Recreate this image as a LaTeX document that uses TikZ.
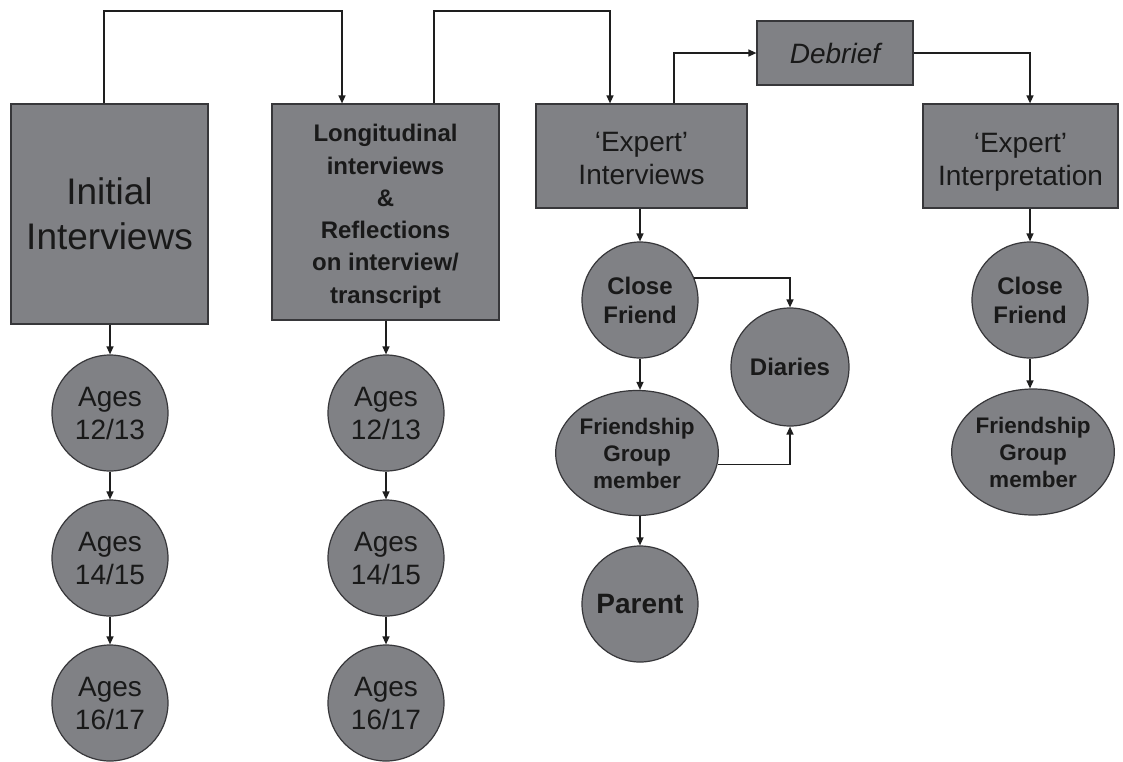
\documentclass[tikz,border=0pt]{standalone}
\usepackage{fontspec}
\setmainfont{Liberation Sans}
\usetikzlibrary{arrows.meta,shapes.geometric}
\definecolor{boxfill}{RGB}{128,129,133}
\definecolor{boxline}{RGB}{55,55,58}
\definecolor{wire}{RGB}{30,30,30}
% centred stack of lines, drawn #1 lower while keeping its measured extent
\newcommand{\dropstack}[2]{\raisebox{-#1}[\height][\depth]{\begin{tabular}{@{}c@{}}#2\end{tabular}}}
\begin{document}
\begin{tikzpicture}[x=1pt,y=-1pt,
  base/.style={draw=boxline,fill=boxfill,line width=1.2pt,align=center,inner sep=0pt,text=black!90},
  panel/.style={base,rectangle},
  bubble/.style={base,circle,minimum size=116pt},
  oval/.style={base,ellipse,minimum width=149pt,minimum height=125pt},
  arr/.style={draw=wire,line width=1.3pt,-{Triangle[length=8pt,width=7pt]}}
]
\useasboundingbox (0,0) rectangle (1123,761);

% top-level stages
\node[panel,minimum width=197pt,minimum height=220pt,font=\fontsize{37}{45}\selectfont] (init) at (109.5,214) {Initial\\Interviews};
\node[panel,minimum width=227pt,minimum height=216pt,font=\bfseries\fontsize{24}{32.3}\selectfont] (longi) at (385.5,212)
  {\dropstack{4pt}{Longitudinal\\interviews\\\&\\Reflections\\on interview/\\transcript}};
\node[panel,minimum width=211pt,minimum height=104pt,font=\fontsize{28}{33}\selectfont] (expint) at (641.5,156) {\dropstack{5pt}{‘Expert’\\Interviews}};
\node[panel,minimum width=156pt,minimum height=64pt,font=\itshape\fontsize{28}{33}\selectfont] (debrief) at (835,53) {Debrief};
\node[panel,minimum width=195pt,minimum height=104pt,font=\fontsize{28}{33}\selectfont] (expinterp) at (1020.5,156) {\dropstack{6pt}{‘Expert’\\Interpretation}};

% age waves
\foreach \col/\cx in {a/110,b/386}{
  \node[bubble,font=\fontsize{28}{33}\selectfont] (\col1) at (\cx,413) {Ages\\12/13};
  \node[bubble,font=\fontsize{28}{33}\selectfont] (\col2) at (\cx,558) {Ages\\14/15};
  \node[bubble,font=\fontsize{28}{33}\selectfont] (\col3) at (\cx,703) {Ages\\16/17};
}

% expert interview participants
\node[bubble,font=\bfseries\fontsize{24}{29}\selectfont] (cf) at (640,300) {Close\\Friend};
\node[oval,font=\bfseries\fontsize{22.5}{27}\selectfont] (fg) at (637,453) {Friendship\\Group\\member};
\node[bubble,font=\bfseries\fontsize{28}{33}\selectfont] (parent) at (640,604) {Parent};
\node[bubble,minimum size=118pt,font=\bfseries\fontsize{24}{29}\selectfont] (diaries) at (790,367) {Diaries};

% expert interpretation participants
\node[bubble,font=\bfseries\fontsize{24}{29}\selectfont] (cf2) at (1030,300) {Close\\Friend};
\node[oval,minimum width=148pt,minimum height=126pt,font=\bfseries\fontsize{22.5}{27}\selectfont] (fg2) at (1033,452) {Friendship\\Group\\member};

% links along the top
\draw[arr] (init.north -| 104,0) -- (104,11) -| (longi.north -| 342,0);
\draw[arr] (longi.north -| 434,0) -- (434,11) -| (expint.north -| 610,0);
\draw[arr] (expint.north -| 674,0) |- (debrief.west);
\draw[arr] (debrief.east) -| (expinterp.north -| 1030,0);

% links down each column
\draw[arr] (a1.north |- init.south) -- (a1.north);
\draw[arr] (a1.south) -- (a2.north);
\draw[arr] (a2.south) -- (a3.north);
\draw[arr] (b1.north |- longi.south) -- (b1.north);
\draw[arr] (b1.south) -- (b2.north);
\draw[arr] (b2.south) -- (b3.north);

\draw[arr] (cf.north |- expint.south) -- (cf.north);
\draw[arr] (cf.south) -- (cf.south |- fg.north);
\draw[arr] (parent.north |- fg.south) -- (parent.north);
\draw[arr] (cf.22) -| (diaries.north);
\draw[arr] (fg.-8) -| (diaries.south);

\draw[arr] (cf2.north |- expinterp.south) -- (cf2.north);
\draw[arr] (cf2.south) -- (cf2.south |- fg2.north);
\end{tikzpicture}
\end{document}
